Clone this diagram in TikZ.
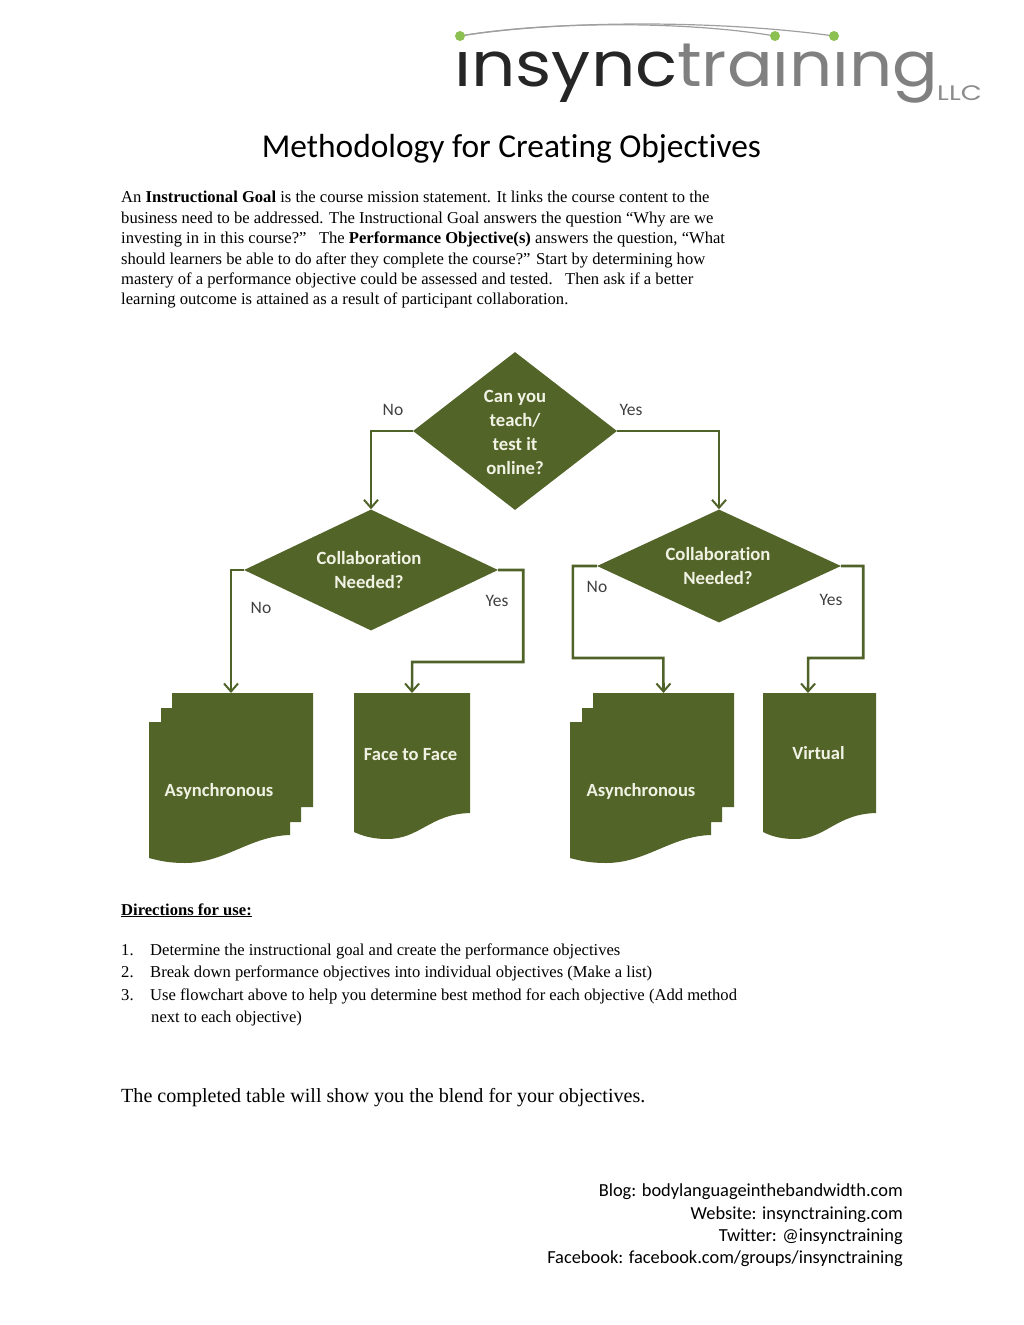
\documentclass[tikz,border=0pt]{standalone}
\usepackage{fontspec}
\setmainfont{Liberation Serif}
\newfontfamily\calfont[Ligatures=NoCommon]{Carlito}
\newfontfamily\logofont{Poppins}
\usetikzlibrary{shapes.geometric,arrows.meta}
\definecolor{olive}{HTML}{536428}
\definecolor{linec}{HTML}{4F6228}
\definecolor{dotg}{HTML}{8CC152}
\definecolor{softw}{HTML}{F0F2E4}
\tikzset{x=1pt,y=-1pt,
  dec/.style={diamond,fill=olive,inner sep=0pt},
  dectext/.style={text=softw,align=center,inner sep=0pt,font=\calfont\bfseries\fontsize{18.7}{24}\selectfont},
  doctext/.style={text=softw,font=\calfont\bfseries\fontsize{18.6}{20}\selectfont,inner sep=0pt},
  holder/.style={rectangle,inner sep=0pt,outer sep=0pt},
  conn/.style={draw=linec,line width=2.6pt,-{Straight Barb[length=8pt,width=14pt,line width=2pt]}},
  lab/.style={font=\calfont\fontsize{17.5}{20}\selectfont,text=black!75,inner sep=0pt},
  body/.style={anchor=base west,inner sep=0pt,font=\fontsize{16.6}{20}\selectfont},
  foot/.style={anchor=base east,inner sep=0pt,font=\calfont\fontsize{18.4}{22}\selectfont},
  stackdoc/.pic={\fill[olive] (172,693)--(313,693)--(313,807)--(301,807)--(301,822)--(290,822)--(290,835)
     .. controls (250,836) and (225,863) .. (185,863) .. controls (170,863) and (160,861) .. (149,858)
     --(149,722)--(161,722)--(161,708)--(172,708)--cycle;}
}
\begin{document}
\begin{tikzpicture}
\useasboundingbox (0,0) rectangle (1024,1325);
% logo
\draw[gray!75,line width=1.2pt] (460,36) .. controls (540,22) and (680,20) .. (775,36);
\draw[gray!75,line width=1.2pt] (460,36) .. controls (560,20) and (720,20) .. (834,36);
\fill[dotg] (460,36) circle (5pt) (775,36) circle (5pt) (834,36) circle (5pt);
\node[inner sep=0pt,anchor=base west,text=black!85] (logoa) at (454,86) {\logofont\fontsize{62}{62}\selectfont\scalebox{1.12}[1]{ınsync}};
\node[inner sep=0pt,anchor=base west,text=black!50] (logob) at (677,86) {\logofont\fontsize{62}{62}\selectfont\scalebox{1.09}[1]{traınıng}};
\node[inner sep=0pt,anchor=base west,text=black!45] (logoc) at (937,100) {\logofont\fontsize{21}{21}\selectfont\scalebox{1.3}[1]{LLC}};
% title
\node[inner sep=0pt,anchor=base] (title) at (511.5,157) {\calfont\fontsize{33.4}{36}\selectfont Methodology for Creating Objectives};
% paragraph
\node[body] (p1) at (121,202) {An \textbf{Instructional Goal} is the course mission statement. It links the course content to the};
\node[body] (p2) at (121,223.5) {business need to be addressed. The Instructional Goal answers the question “Why are we};
\node[body] (p3) at (121,243.5) {investing in in this course?”\ \ \ The \textbf{Performance Objective(s)} answers the question, “What};
\node[body] (p4) at (121,264) {should learners be able to do after they complete the course?” Start by determining how};
\node[body] (p5) at (121,284) {mastery of a performance objective could be assessed and tested.\ \ \ Then ask if a better};
\node[body] (p6) at (121,304) {learning outcome is attained as a result of participant collaboration.};
% decisions
\node[dec,minimum width=204pt,minimum height=158pt,shape aspect=1.29] (d1) at (515,431) {};
\node[dec,minimum width=254pt,minimum height=121pt,shape aspect=2.1] (d2) at (371,570) {};
\node[dec,minimum width=244pt,minimum height=113pt,shape aspect=2.16] (d3) at (719,566) {};
\node[dectext] (d1t) at (515,432.5) {Can you\\teach/\\test it\\online?};
\node[dectext] (d2t) at (369,570) {Collaboration\\Needed?};
\node[dectext] (d3t) at (718,566) {Collaboration\\Needed?};
% documents
\pic at (0,0) {stackdoc};
\pic at (421,0) {stackdoc};
\fill[olive] (354,693)--(470,693)--(470,813) .. controls (430,814) and (420,839) .. (387,839) .. controls (375,839) and (365,837) .. (354,832)--cycle;
\fill[olive] (763,693)--(876,693)--(876,813) .. controls (836,814) and (826,839) .. (795,839) .. controls (783,839) and (773,837) .. (763,832)--cycle;
\node[holder,minimum width=164pt,minimum height=170pt] (a1) at (231,778) {};
\node[holder,minimum width=116pt,minimum height=146pt] (f2f) at (412,766) {};
\node[holder,minimum width=141pt,minimum height=170pt] (a2) at (663.5,778) {};
\node[holder,minimum width=113pt,minimum height=146pt] (v) at (819.5,766) {};
\node[doctext] (ta1) at (219,791) {Asynchronous};
\node[doctext] (tf) at (410.5,754.5) {Face to Face};
\node[doctext] (ta2) at (641,791) {Asynchronous};
\node[doctext] (tv) at (818.5,753.5) {Virtual};
% connectors
\draw[conn] (d1.west) -| (d2.north);
\draw[conn] (d1.east) -| (d3.north);
\draw[conn] (d2.west) -| (a1.north);
\draw[conn] (d2.east) -- ++(25,0) |- ++(-111,92) -- (f2f.north);
\draw[conn] (d3.west) -- ++(-24,0) |- ++(90.5,92) -- (a2.north);
\draw[conn] (d3.east) -- ++(22,0) |- ++(-55,92) -- ([xshift=-11.5pt]v.north);
% labels
\node[lab] (l1) at (393,410) {No};
\node[lab] (l2) at (631,410) {Yes};
\node[lab] (l3) at (261,608) {No};
\node[lab] (l4) at (497,601) {Yes};
\node[lab] (l5) at (597,587) {No};
\node[lab] (l6) at (831,600) {Yes};
% directions
\node[body] (dh) at (121,915) {\underline{\textbf{Directions for use:}}};
\node[body] (n1) at (121,955) {1.};
\node[body] (i1) at (150,955) {Determine the instructional goal and create the performance objectives};
\node[body] (n2) at (121,977) {2.};
\node[body] (i2) at (150,977) {Break down performance objectives into individual objectives (Make a list)};
\node[body] (n3) at (121,1000) {3.};
\node[body] (i3) at (150,1000) {Use flowchart above to help you determine best method for each objective (Add method};
\node[body] (i4) at (151,1022) {next to each objective)};
\node[anchor=base west,inner sep=0pt,font=\fontsize{20.1}{24}\selectfont] (done) at (121,1102) {The completed table will show you the blend for your objectives.};
% footer
\node[foot] (f1) at (903,1196) {Blog: bodylanguageinthebandwidth.com};
\node[foot] (f2) at (903,1219) {Website: insynctraining.com};
\node[foot] (f3) at (903,1241) {Twitter: @insynctraining};
\node[foot] (f4) at (903,1263) {Facebook: facebook.com/groups/insynctraining};
\end{tikzpicture}
\end{document}
